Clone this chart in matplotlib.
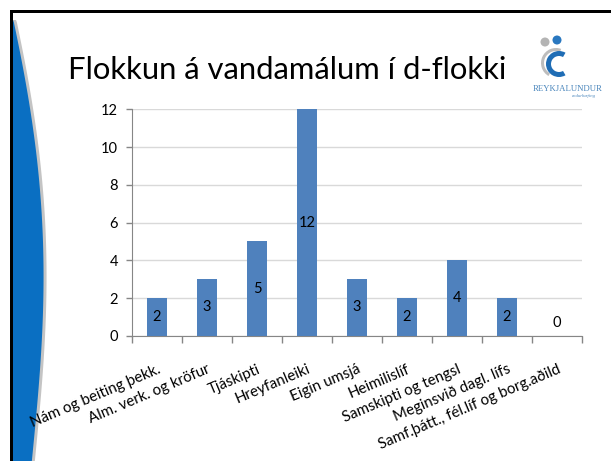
import matplotlib
matplotlib.use("Agg")
import matplotlib.pyplot as plt
from matplotlib.patches import Polygon, Circle, Wedge, Rectangle
import numpy as np

categories = ["Nám og beiting þekk.", "Alm. verk. og kröfur", "Tjáskipti", "Hreyfanleiki",
              "Eigin umsjá", "Heimilislíf", "Samskipti og tengsl", "Meginsvið dagl. lífs",
              "Samf.þátt., fél.líf og borg.aðild"]
values = [2, 3, 5, 12, 3, 2, 4, 2, 0]
yticks = [0, 2, 4, 6, 8, 10, 12]
title = "Flokkun á vandamálum í d-flokki"

FONT = ["Lato", "DejaVu Sans"]
plt.rcParams['font.family'] = FONT

W, H = 611, 461
fig = plt.figure(figsize=(W / 100, H / 100), dpi=100)
fig.patch.set_facecolor("white")

# background decoration in pixel coordinates
bg = fig.add_axes([0, 0, 1, 1], zorder=0)
bg.set_xlim(0, W)
bg.set_ylim(H, 0)
bg.axis("off")

# blue swoosh on left: smooth curve fitted through shape knots
ky = np.array([20, 27, 60, 100, 120, 200, 300, 350, 400, 461])
kw = np.array([0, 2, 9, 16, 18, 28, 30, 29, 24, 19])
coef = np.polyfit(ky, kw, 4)
ys = np.linspace(20, H, 200)
ws = np.clip(np.polyval(coef, ys), 0, None)
ws[0] = 0
gray_pts = [(13, 20)] + [(13 + w + 3, y) for w, y in zip(ws, ys)] + [(13, H)]
bg.add_patch(Polygon(gray_pts, closed=True, facecolor="#C4C4C4", edgecolor="none"))
blue_pts = [(13, 20)] + [(13 + w, y) for w, y in zip(ws, ys)] + [(13, H)]
bg.add_patch(Polygon(blue_pts, closed=True, facecolor="#0A6FC2", edgecolor="none"))
# black frame
bg.add_patch(Rectangle((10, 10), W - 10, 3, facecolor="black", edgecolor="none"))
bg.add_patch(Rectangle((10, 10), 3, H - 10, facecolor="black", edgecolor="none"))

# title
bg.text(68, 70, title, fontsize=22.3, color="black", ha="left", va="center", family=FONT)

# logo
bg.add_patch(Circle((545, 42), 4.5, facecolor="#B4B4B4", edgecolor="none"))
bg.add_patch(Circle((557, 40), 4.5, facecolor="#2A78C0", edgecolor="none"))
bg.add_patch(Wedge((556, 63), 15, 120, 290, width=3, facecolor="#BDBDBD", edgecolor="none"))
bg.add_patch(Wedge((559, 64), 13, 60, 300, width=5, facecolor="#1F6DB5", edgecolor="none"))
bg.text(568, 89, "REYKJALUNDUR", fontsize=6.3, color="#4A86BC", ha="center", va="center",
        family=["Liberation Serif", "DejaVu Serif"])
bg.text(596, 96, "endurhæfing", fontsize=3.4, color="#4A86BC", ha="right", va="center",
        style="italic", family=["Liberation Serif", "DejaVu Serif"])

# chart
ax = fig.add_axes([132 / W, 1 - 335.7 / H, (582 - 132) / W, (335.7 - 109.5) / H], zorder=2)
ax.patch.set_alpha(0)
x = np.arange(len(categories))
ax.bar(x, values, width=0.4, color="#4F81BD", zorder=3)
ax.set_xlim(-0.5, len(categories) - 0.5)
ax.set_ylim(0, 12)
ax.set_yticks(yticks)
ax.yaxis.grid(True, color="#D9D9D9", linewidth=1, zorder=0)
ax.set_axisbelow(True)
for s in ["top", "right"]:
    ax.spines[s].set_visible(False)
ax.spines["left"].set_color("#868686")
ax.spines["bottom"].set_color("#868686")
ax.tick_params(axis="y", colors="#868686", labelcolor="black", labelsize=10.5, length=4,
               width=1, pad=6)
ax.set_yticklabels([str(v) for v in yticks], family=FONT)

# x ticks at category boundaries
ax.set_xticks(np.arange(-0.5, len(categories), 1.0))
ax.set_xticklabels([])
ax.tick_params(axis="x", colors="#868686", length=5, width=1)
for i, lab in enumerate(categories):
    ax.annotate(lab, xy=(i, 0), xycoords=("data", "axes fraction"),
                xytext=(0, -19), textcoords="offset points",
                rotation=23, rotation_mode="anchor", ha="right", va="top",
                fontsize=10.8, family=FONT, color="black")

for i, v in enumerate(values):
    yv = v / 2 if v > 0 else 0.7
    ax.text(i, yv, str(v), ha="center", va="center", fontsize=10.5, color="black",
            family=FONT, zorder=4)

fig.savefig("out.png", dpi=100, facecolor="white")
